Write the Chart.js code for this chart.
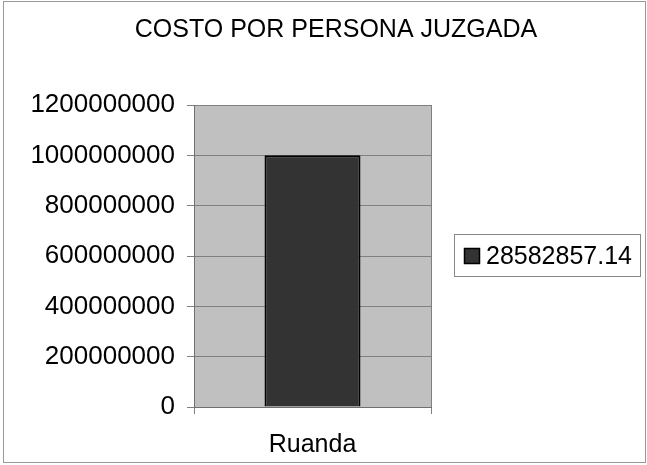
<!DOCTYPE html>
<html>
<head>
<meta charset="utf-8">
<script src="https://cdn.jsdelivr.net/npm/chart.js@4"></script>
<style>
  body { margin: 0; background: #fff; }
  #wrap { width: 647px; height: 465px; }
</style>
</head>
<body>
<div id="wrap"><canvas id="myChart" width="647" height="465"></canvas></div>
<script>
const categories = ["Ruanda"];
const seriesName = "28582857.14";
const seriesValues = [1000000000];
const yTicks = [0, 200000000, 400000000, 600000000, 800000000, 1000000000, 1200000000];

const FONT = "'Liberation Sans', Arial, sans-serif";

// grey plot background, framed legend and outer frame
const decor = {
  id: "decor",
  afterLayout(chart) {
    // title is centred a bit right of the canvas centre in the original
    chart.titleBlock.left = 25;
    chart.titleBlock.right = 647;
  },
  beforeDraw(chart) {
    const { ctx, chartArea: a } = chart;
    ctx.save();
    ctx.fillStyle = "#c0c0c0";
    ctx.fillRect(a.left, a.top, a.right - a.left, a.bottom - a.top);
    ctx.restore();
  },
  afterDraw(chart) {
    const { ctx, chartArea: a } = chart;
    const ds = chart.data.datasets[0];
    const cy = Math.round((a.top + a.bottom) / 2);
    ctx.save();
    ctx.strokeStyle = "#999";
    ctx.lineWidth = 1;
    ctx.strokeRect(3.5, 1.5, 642, 461);

    // legend
    ctx.strokeStyle = "#888";
    ctx.strokeRect(454.5, cy - 22 + 0.5, 186, 42);
    ctx.fillStyle = ds.backgroundColor;
    ctx.fillRect(464, cy - 8, 16, 16);
    ctx.strokeStyle = "#000";
    ctx.lineWidth = 1.5;
    ctx.strokeRect(464.5, cy - 7.5, 15, 15);
    ctx.fillStyle = "#000";
    ctx.font = "25px " + FONT;
    ctx.textBaseline = "middle";
    ctx.fillText(ds.label, 486, cy + 1);
    ctx.restore();
  },
};

const ctx = document.getElementById("myChart");

const myChart = new Chart(ctx, {
  type: "bar",
  plugins: [decor],
  data: {
    labels: categories,
    datasets: [
      {
        label: seriesName,
        data: seriesValues,
        backgroundColor: "#333333",
        borderColor: "#000000",
        borderWidth: 2,
        barPercentage: 0.405,
        categoryPercentage: 1,
      },
    ],
  },
  options: {
    responsive: false,
    animation: false,
    layout: { padding: { left: 30, right: 216, top: 0, bottom: 0 } },
    plugins: {
      title: {
        display: true,
        text: "COSTO POR PERSONA JUZGADA",
        color: "#000",
        font: { family: FONT, size: 25, weight: "normal" },
        padding: { top: 15, bottom: 60 },
      },
      legend: { display: false },
      tooltip: { enabled: false },
    },
    scales: {
      x: {
        offset: true,
        afterFit(scale) {
          scale.height = 58;
        },
        grid: { offset: true, color: "#808080", tickLength: 7 },
        border: { color: "#707070" },
        ticks: { color: "#000", font: { family: FONT, size: 25 }, padding: 16 },
      },
      y: {
        min: 0,
        max: 1200000000,
        afterBuildTicks(scale) {
          scale.ticks = yTicks.map((v) => ({ value: v }));
        },
        afterFit(scale) {
          scale.width = 164;
        },
        grid: { color: "#808080", tickLength: 7 },
        border: { color: "#707070" },
        ticks: {
          color: "#000",
          font: { family: FONT, size: 26 },
          padding: 12,
          callback: (v) => String(v),
        },
      },
    },
  },
});
</script>
</body>
</html>
